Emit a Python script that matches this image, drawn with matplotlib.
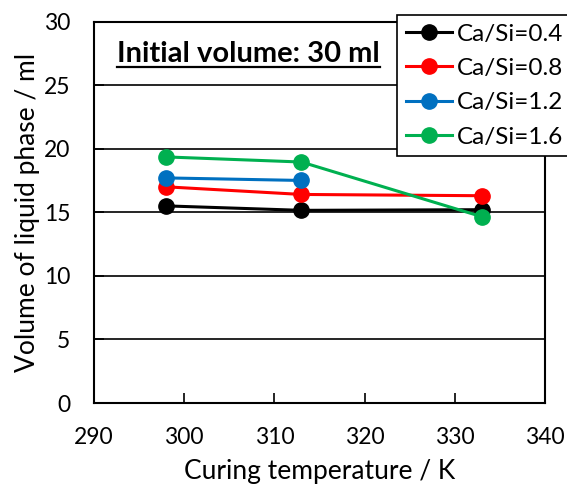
import matplotlib
matplotlib.use("Agg")
import matplotlib.pyplot as plt

plt.rcParams['font.family'] = ['Lato', 'DejaVu Sans']

temps_a = [298, 313, 333]
temps_b = [298, 313]
ca04 = [15.5, 15.15, 15.2]
ca08 = [17.0, 16.4, 16.3]
ca12 = [17.7, 17.5]
ca16 = [19.35, 18.95, 14.65]
labels = ['Ca/Si=0.4', 'Ca/Si=0.8', 'Ca/Si=1.2', 'Ca/Si=1.6']
colors = ['#000000', '#ff0000', '#0070c0', '#00b050']
xticks = [290, 300, 310, 320, 330, 340]
yticks = [0, 5, 10, 15, 20, 25, 30]

W, H = 567, 487
fig = plt.figure(figsize=(W / 100, H / 100), dpi=100)
ax = fig.add_axes([94 / W, 1 - 403 / H, (545 - 94) / W, (403 - 21.5) / H])

series = [(temps_a, ca04), (temps_a, ca08), (temps_b, ca12), (temps_a, ca16)]
for (xs, ys), lab, c in zip(series, labels, colors):
    ax.plot(xs, ys, '-o', color=c, lw=2.2, ms=11, label=lab, zorder=3)

ax.set_xlim(290, 340)
ax.set_ylim(0, 30)
ax.set_xticks(xticks)
ax.set_yticks(yticks)
ax.yaxis.grid(True, color='black', lw=1.2)
ax.set_axisbelow(True)
ax.tick_params(axis='both', direction='in', length=7, width=1.2, labelsize=16.5, pad=17)
for s in ax.spines.values():
    s.set_linewidth(1.5)
ax.set_xlabel('Curing temperature / K', fontsize=19, labelpad=8)
ax.set_ylabel('Volume of liquid phase / ml', fontsize=19, labelpad=3)

txt = ax.text(117 / W, 1 - 62 / H, 'Initial volume: 30 ml', transform=fig.transFigure,
              fontsize=21, fontweight='bold', ha='left', va='baseline', zorder=5)
fig.canvas.draw()
bb = txt.get_window_extent()
fig.add_artist(plt.Line2D([bb.x0 / W, bb.x1 / W], [1 - 67 / H, 1 - 67 / H],
                          transform=fig.transFigure, color='black', lw=1.6))

leg = fig.legend(loc='upper left', bbox_to_anchor=(397 / W, 1 - 15 / H),
                 fontsize=17.5, frameon=True, fancybox=False, edgecolor='black',
                 handlelength=1.9, handletextpad=0.2, borderpad=0.35,
                 labelspacing=0.55, borderaxespad=0)
leg.get_frame().set_linewidth(1.2)
leg.get_frame().set_alpha(1)

fig.savefig('out.png', dpi=100)
